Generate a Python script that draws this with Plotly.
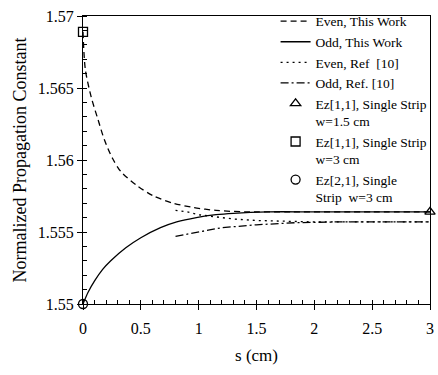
import plotly.graph_objects as go

# Even, This Work (dashed)
even_tw_x = [0, 0.02, 0.07, 0.13, 0.185, 0.256, 0.327, 0.47, 0.61, 0.78, 0.955, 1.15, 1.4, 1.8, 2.5, 3.0]
even_tw_y = [1.5689, 1.5663, 1.5644, 1.5628, 1.5614, 1.5601, 1.5592, 1.5582, 1.5575, 1.5570, 1.5567, 1.5565, 1.5564, 1.5564, 1.5564, 1.5564]

# Odd, This Work (solid)
odd_tw_x = [0, 0.043, 0.1, 0.17, 0.24, 0.37, 0.5, 0.67, 0.81, 0.98, 1.15, 1.3, 1.6, 2.0, 3.0]
odd_tw_y = [1.5500, 1.5508, 1.5516, 1.5524, 1.5530, 1.5539, 1.5546, 1.5553, 1.5557, 1.5560, 1.5562, 1.5563, 1.5564, 1.5564, 1.5564]

# Even, Ref [10] (dotted)
even_ref_x = [0.8, 0.9, 1.0, 1.1, 1.3, 1.5, 2.0, 3.0]
even_ref_y = [1.5565, 1.5564, 1.5562, 1.5561, 1.5559, 1.5558, 1.5557, 1.5557]

# Odd, Ref [10] (dash-dot)
odd_ref_x = [0.8, 1.0, 1.2, 1.5, 1.85, 2.2, 3.0]
odd_ref_y = [1.5547, 1.5550, 1.5553, 1.5555, 1.55565, 1.5557, 1.5557]

# Single-strip reference points
tri_x, tri_y = [3.0], [1.5564]
sq_x, sq_y = [0.0], [1.5689]
circ_x, circ_y = [0.0], [1.5500]

x_tickvals = [0, 0.5, 1, 1.5, 2, 2.5, 3]
x_ticktext = ["0", "0.5", "1", "1.5", "2", "2.5", "3"]
y_tickvals = [1.55, 1.555, 1.56, 1.565, 1.57]
y_ticktext = ["1.55", "1.555", "1.56", "1.565", "1.57"]

FONT = "Liberation Serif, Times New Roman, serif"
lw = 1.3

fig = go.Figure()
fig.add_trace(go.Scatter(x=even_tw_x, y=even_tw_y, mode="lines", name="Even, This Work",
                         line=dict(color="black", width=lw, dash="6px,4px", shape="spline", smoothing=0.8)))
fig.add_trace(go.Scatter(x=odd_tw_x, y=odd_tw_y, mode="lines", name="Odd, This Work",
                         line=dict(color="black", width=lw, shape="spline", smoothing=0.8)))
fig.add_trace(go.Scatter(x=even_ref_x, y=even_ref_y, mode="lines", name="Even, Ref  [10]",
                         line=dict(color="black", width=lw, dash="2px,4px")))
fig.add_trace(go.Scatter(x=odd_ref_x, y=odd_ref_y, mode="lines", name="Odd, Ref. [10]",
                         line=dict(color="black", width=lw, dash="8px,3px,2px,3px")))
fig.add_trace(go.Scatter(x=tri_x, y=tri_y, mode="markers", name="Ez[1,1], Single Strip<br>w=1.5 cm",
                         marker=dict(symbol="triangle-up-open", size=9, color="black", line=dict(width=1.3)),
                         cliponaxis=False))
fig.add_trace(go.Scatter(x=sq_x, y=sq_y, mode="markers", name="Ez[1,1], Single Strip<br>w=3 cm",
                         marker=dict(symbol="square-open", size=9, color="black", line=dict(width=1.3)),
                         cliponaxis=False))
fig.add_trace(go.Scatter(x=circ_x, y=circ_y, mode="markers", name="Ez[2,1], Single<br>Strip  w=3 cm",
                         marker=dict(symbol="circle-open", size=9, color="black", line=dict(width=1.3)),
                         cliponaxis=False))

fig.update_layout(
    width=438, height=375,
    margin=dict(l=83, r=4, t=16, b=71),
    paper_bgcolor="white", plot_bgcolor="white",
    font=dict(family=FONT, color="black", size=16),
    showlegend=True,
    legend=dict(x=0.555, y=1.035, xanchor="left", yanchor="top", bgcolor="rgba(0,0,0,0)",
                font=dict(family=FONT, size=13.5), tracegroupgap=0, valign="top",
                itemwidth=30, maxheight=400),
)
fig.update_xaxes(
    range=[0, 3], tickvals=x_tickvals, ticktext=x_ticktext,
    showline=True, linecolor="black", linewidth=1.3, mirror=True,
    ticks="outside", ticklen=5, tickcolor="black", tickwidth=1,
    minor=dict(dtick=0.1, ticks="inside", ticklen=4, tickcolor="black", showgrid=False),
    showgrid=False, zeroline=False, ticklabelstandoff=5,
    tickfont=dict(family=FONT, size=16),
    title=dict(text="s (cm)", font=dict(family=FONT, size=17), standoff=12),
)
fig.update_yaxes(
    range=[1.55, 1.57], tickvals=y_tickvals, ticktext=y_ticktext,
    showline=True, linecolor="black", linewidth=1.3, mirror=True,
    ticks="outside", ticklen=5, tickcolor="black", tickwidth=1,
    minor=dict(dtick=0.001, ticks="inside", ticklen=4, tickcolor="black", showgrid=False),
    showgrid=False, zeroline=False,
    tickfont=dict(family=FONT, size=16),
    title=dict(text="Normalized Propagation Constant", font=dict(family=FONT, size=18), standoff=6),
)

fig.write_html("out.html")
